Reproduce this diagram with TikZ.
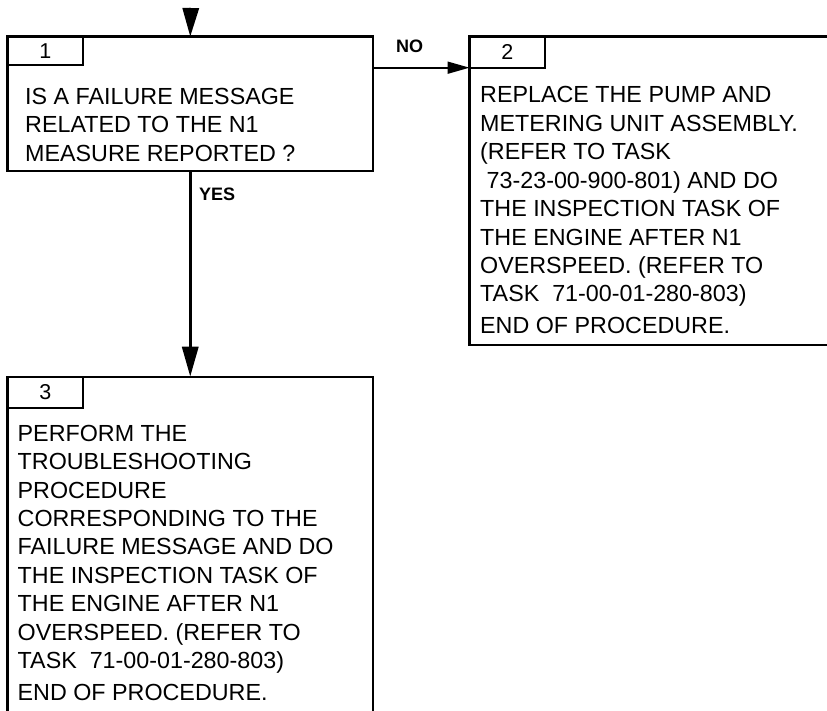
\documentclass[tikz,border=0pt]{standalone}
\usepackage{fontspec}
\setmainfont{Liberation Sans}
\usetikzlibrary{arrows.meta,positioning}

\tikzset{
  stepbox/.style={draw, line width=2.4pt, anchor=north west, inner sep=0pt, outer sep=0pt},
  numtab/.style={draw, line width=1.8pt, anchor=north west, inner sep=0pt, outer sep=0pt,
    minimum width=75.5pt, font=\fontsize{21.5}{24}\selectfont},
  steptext/.style={anchor=north west, align=left, inner sep=0pt,
    font=\fontsize{23.3}{28.45}\selectfont},
  answer/.style={anchor=base west, inner sep=0pt, font=\bfseries\fontsize{18}{20}\selectfont},
  flow/.style={line width=3.3pt, -{Triangle[length=30pt,width=16pt]}},
  noflow/.style={line width=1.7pt, -{Triangle[length=22pt,width=12pt]}}
}

\begin{document}
\begin{tikzpicture}[x=1pt, y=-1pt]
  \useasboundingbox (0,0) rectangle (827,711);
  \clip (0,0) rectangle (827,711);
  % step 1: the question
  \node[stepbox, minimum width=365.5pt, minimum height=134.3pt] (box1) at (7.5,36.7) {};
  \node[numtab, minimum height=28.5pt] (tab1) at (box1.north west) {1};
  \node[steptext] (txt1) at (25,88) {IS A FAILURE MESSAGE\\RELATED TO THE N1\\MEASURE REPORTED ?};
  % step 2: answer NO
  \node[stepbox, minimum width=380pt, minimum height=308.3pt] (box2) at (469.5,36.7) {};
  \node[numtab, minimum height=31pt] (tab2) at (box2.north west) {2};
  \node[steptext] (txt2) at (480,86.3) {REPLACE THE PUMP AND\\METERING UNIT ASSEMBLY.\\(REFER TO TASK\\
    \ 73-23-00-900-801) AND DO\\THE INSPECTION TASK OF\\THE ENGINE AFTER N1\\
    OVERSPEED. (REFER TO\\TASK \ 71-00-01-280-803)\\[3.2pt]END OF PROCEDURE.};
  % step 3: answer YES (runs off the bottom)
  \node[stepbox, minimum width=365.5pt, minimum height=360pt] (box3) at (7.5,376.7) {};
  \node[numtab, minimum height=31pt] (tab3) at (box3.north west) {3};
  \node[steptext] (txt3) at (17.5,424.7) {PERFORM THE\\TROUBLESHOOTING\\PROCEDURE\\
    CORRESPONDING TO THE\\FAILURE MESSAGE AND DO\\THE INSPECTION TASK OF\\
    THE ENGINE AFTER N1\\OVERSPEED. (REFER TO\\TASK \ 71-00-01-280-803)\\[3.2pt]END OF PROCEDURE.};
  % connectors
  \coordinate (entry) at (190.75,8);
  \draw[flow, -{Triangle[length=28.7pt,width=16pt]}] (entry) -- (box1.north);
  \draw[flow] (box1.south) -- (box3.north);
  \draw[noflow] (box1.east |- tab2.south west) -- (tab2.south west);
  \node[answer] (no) at (396,52.5) {NO};
  \node[answer] (yes) at (199,200.5) {YES};
\end{tikzpicture}
\end{document}
